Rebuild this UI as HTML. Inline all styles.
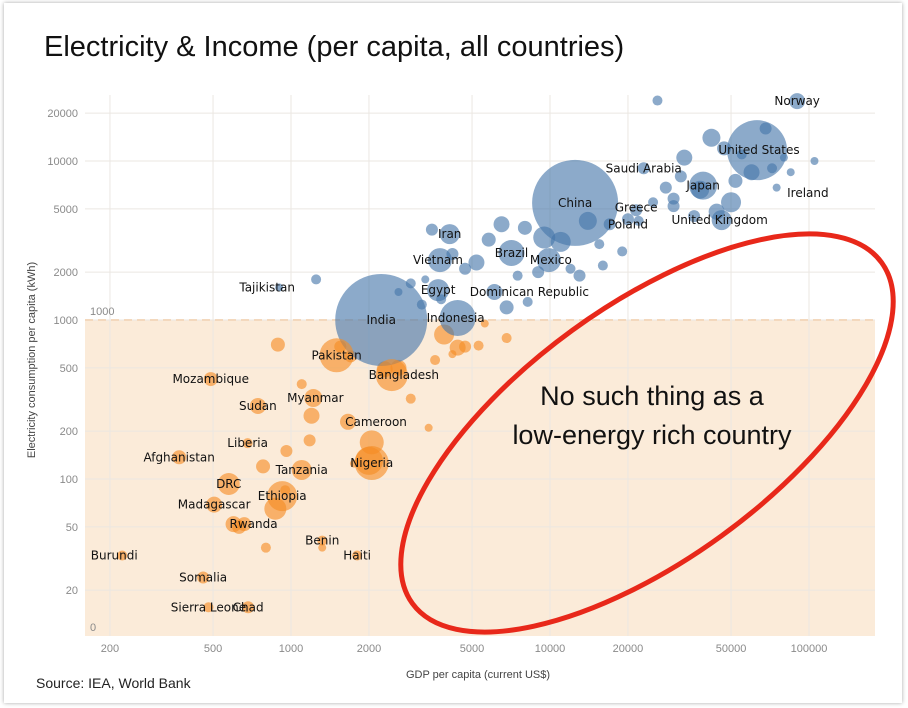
<!DOCTYPE html>
<html><head><meta charset="utf-8">
<style>
body{margin:0;background:#fff;}
#wrap{position:relative;width:908px;height:708px;overflow:hidden;background:#fff;}
#card{position:absolute;left:4px;top:3px;width:898px;height:700px;background:#fff;box-shadow:0 0 4px rgba(0,0,0,0.35);}
svg{position:absolute;left:0;top:0;font-family:"Liberation Sans",sans-serif;}
</style></head>
<body>
<div id="wrap">
<div id="card"></div>
<svg id="chart" width="908" height="708"></svg>
</div>
<script>
const names=["India","China","United States","Norway","Japan","Saudi Arabia","Greece","Poland","United Kingdom","Ireland","Iran","Vietnam","Brazil","Mexico","Egypt","Indonesia","Dominican Republic","Tajikistan","Pakistan","Bangladesh","Mozambique","Myanmar","Sudan","Cameroon","Liberia","Afghanistan","Nigeria","Tanzania","DRC","Ethiopia","Madagascar","Rwanda","Benin","Haiti","Burundi","Somalia","Sierra Leone","Chad"];
const gdp=[2230,12500,63000,90000,39000,23000,21500,20000,46000,99000,4100,3760,7100,9900,3700,4400,6100,900,1500,2450,490,1220,745,1660,680,370,2050,1100,575,925,505,600,1320,1800,223,458,480,683];
const elec=[1000,5450,11700,23800,7000,9000,4900,4300,4250,6300,3470,2380,2640,2380,1540,1030,1500,1600,600,450,425,323,288,229,168,137,126,114,93,78,69,52,41,33,33,24,15.6,15.6];
const size=[46,43,30,8,14,6,6,6,10,0,10,12,13,12,11,18,8,4,17,16,7,9,8,8,5,7,17,10,11,15,8,8,5,5,5,6,5,6];
const labelDx=[0,0,2,0,0,0,0,0,-2,0,0,-2,0,2,0,-2,35,-12,0,12,0,2,0,28,0,0,0,0,0,0,0,20,0,0,-8,0,0,0];
const labelDy=[0,0,0,0,0,0,-3,5,0,0,0,0,0,0,0,0,0,0,0,0,0,0,0,0,0,0,0,0,0,0,0,0,0,0,0,0,0,0];
const extraGdp=[26000,42000,68000,55000,33000,47000,52000,38000,30000,36000,60000,72000,80000,50000,25000,17000,14000,11000,9500,8000,6500,5200,4700,3300,3500,5800,7500,9000,16000,19000,28000,75000,105000,85000,44000,32000,15500,12000,6800,4200,3200,1250,2600,2900,3800,8200,13000,22000,5600,30000];
const extraElec=[24000,14000,16000,11000,10500,12000,7500,6600,5800,4500,8500,9000,10500,5500,5500,4000,4200,3100,3300,3800,4000,2300,2100,1800,3700,3200,1900,2000,2200,2700,6800,6800,10000,8500,4800,8000,3000,2100,1200,2600,1250,1800,1500,1700,1350,1300,1900,4200,950,5200];
const extraR=[5,9,6,5,8,7,7,9,6,6,8,5,4,10,5,6,9,10,11,7,8,8,6,4,6,7,5,6,5,5,6,4,4,4,8,6,5,5,7,6,5,5,4,5,5,5,6,5,4,6];
const lowGdp=[890,1550,1700,2600,3600,2900,3400,1100,1200,1180,2050,2000,1750,960,780,950,870,630,800,1320,3900,4400,4700,5300,6800,4200,2300,660];
const lowElec=[700,680,590,500,560,320,210,395,250,175,170,130,125,150,120,85,65,50,37,37,810,670,680,690,770,610,490,52];
const lowR=[7,6,6,8,5,5,4,5,8,6,12,14,4,6,7,5,11,7,5,4,10,8,6,5,5,4,8,7];
const xTicks=[200,500,1000,2000,5000,10000,20000,50000,100000];
const yTicks=[20,50,100,200,500,1000,2000,5000,10000,20000];

const NS="http://www.w3.org/2000/svg";
const svg=document.getElementById('chart');
const L=85,R=875,T=95,B=636;
const X=v=>291+259*Math.log10(v/1000);
const Y=v=>320-159*Math.log10(v/1000);
function mk(tag,attrs,parent){const e=document.createElementNS(NS,tag);for(const k in attrs)e.setAttribute(k,attrs[k]);(parent||svg).appendChild(e);return e;}
function txt(s,attrs){const e=mk('text',attrs);e.textContent=s;return e;}

const band=mk('rect',{x:L,y:Y(1000),width:R-L,height:B-Y(1000),fill:'#fbebd9'});


xTicks.forEach(v=>{const g=mk('line',{x1:X(v),x2:X(v),y1:T,y2:B,stroke:'#ebe7e2','stroke-width':1});


const t=txt(String(v),{x:X(v),y:652,'text-anchor':'middle','font-size':11,fill:'#8a8a8a'});

});
yTicks.forEach(v=>{const g=mk('line',{x1:L,x2:R,y1:Y(v),y2:Y(v),stroke:'#ebe7e2','stroke-width':1});


const t=txt(String(v),{x:78,y:Y(v)+4,'text-anchor':'end','font-size':11,fill:'#8a8a8a'});

});
const ref=mk('line',{x1:L,x2:R,y1:Y(1000),y2:Y(1000),stroke:'#f3d8bd','stroke-width':2,'stroke-dasharray':'8,5'});


const rl=txt('1000',{x:90,y:Y(1000)-5,'font-size':11,fill:'#8a8a8a'});


const z=txt('0',{x:90,y:631,'font-size':11,fill:'#8a8a8a'});



function col(e){return e>=1000?'rgba(70,118,170,0.62)':'rgba(245,140,35,0.62)';}
extraGdp.forEach((g,i)=>{const c=mk('circle',{cx:X(g),cy:Y(extraElec[i]),r:extraR[i],fill:col(extraElec[i])});

});
lowGdp.forEach((g,i)=>{const c=mk('circle',{cx:X(g),cy:Y(lowElec[i]),r:lowR[i],fill:col(lowElec[i])});

});
names.forEach((n,i)=>{if(size[i]>0){const c=mk('circle',{cx:X(gdp[i]),cy:Y(elec[i]),r:size[i],fill:col(elec[i])});

}});
names.forEach((n,i)=>{const t=txt(n,{x:X(gdp[i])+labelDx[i],y:Y(elec[i])+4+labelDy[i],'text-anchor':'middle','font-size':12,'font-family':'"DejaVu Sans",sans-serif',fill:'#111'});

});

const ell=mk('ellipse',{cx:647,cy:433,rx:290,ry:127,fill:'none',stroke:'#e8281a','stroke-width':5,transform:'rotate(-36 647 433)'});


const a1=txt('No such thing as a',{x:652,y:405,'text-anchor':'middle','font-size':27,fill:'#111'});


const a2=txt('low-energy rich country',{x:652,y:444,'text-anchor':'middle','font-size':27,fill:'#111'});



const ti=txt('Electricity & Income (per capita, all countries)',{x:44,y:56,'font-size':29,fill:'#111'});


const xt=txt('GDP per capita (current US$)',{x:478,y:678,'text-anchor':'middle','font-size':11,fill:'#444'});


const yt=txt('Electricity consumption per capita (kWh)',{x:0,y:0,'text-anchor':'middle','font-size':11,fill:'#444',transform:'translate(35,360) rotate(-90)'});


const src=txt('Source: IEA, World Bank',{x:36,y:688,'font-size':14,fill:'#222'});


</script>
</body></html>
